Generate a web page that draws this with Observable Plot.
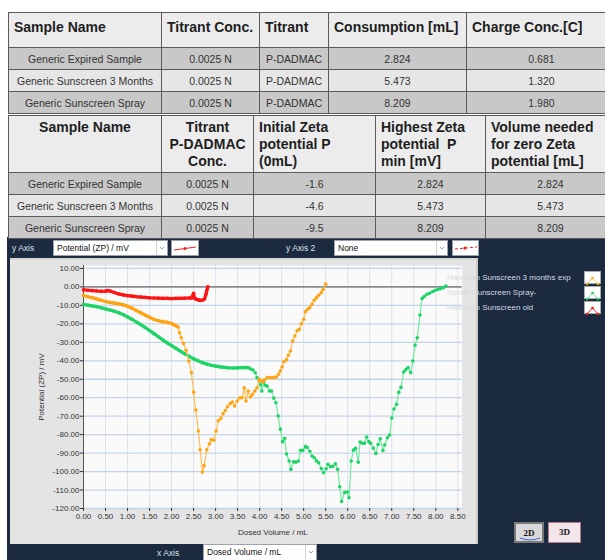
<!DOCTYPE html>
<html><head><meta charset="utf-8">
<script src="https://cdn.jsdelivr.net/npm/d3@7"></script>
<script src="https://cdn.jsdelivr.net/npm/@observablehq/plot@0.6"></script>
<style>
html,body{margin:0;padding:0;background:#fff;}
#root{position:relative;width:605px;height:560px;overflow:hidden;font-family:"Liberation Sans",Arial,sans-serif;}
.tbl{position:absolute;border-collapse:collapse;table-layout:fixed;}
.tbl td{border:1px solid #5b5b5b;padding:0;overflow:hidden;white-space:nowrap;}
.tbl td.h{background:#ececec;font-weight:bold;font-size:14px;color:#1e1e1e;vertical-align:top;}
.tbl td.d{font-size:10.5px;color:#333;text-align:center;vertical-align:middle;}
.dark{background:#c8c8c8}.light{background:#e6e6e6}
#navy{position:absolute;left:7px;top:237px;width:600px;height:330px;background:#1b2a3e;}
.lbl{position:absolute;font-size:8.5px;color:#dde2ea;white-space:nowrap;}
.sel{position:absolute;background:#fff;border:1px solid #9aa3ad;height:16px;box-sizing:border-box;font-size:8.5px;color:#111;line-height:14px;padding-left:3px;white-space:nowrap;}
.sel .arr{position:absolute;right:0;top:0;width:10px;height:14px;border-left:1px solid #d0d4d8;}
.mk{position:absolute;background:#fff;border:1px solid #9aa3ad;box-sizing:border-box;height:16px;}
#panel{position:absolute;left:10px;top:258px;width:468px;height:286px;background:#e4e4e4;border-right:2px solid #cdcdcd;border-top:2px solid #d8d8d8;box-sizing:border-box;}
#chart{position:absolute;left:10px;top:258px;}
.leg{position:absolute;left:447px;font-size:8px;color:#d6dae0;white-space:nowrap;}
.icon{position:absolute;left:584px;width:17px;height:13px;background:#fff;border:1px solid #aaa;box-sizing:border-box;}
.btn{position:absolute;top:522px;height:21px;box-sizing:border-box;font-family:"Liberation Serif",serif;font-weight:bold;font-size:9px;text-align:center;line-height:19px;color:#111;}
</style></head>
<body><div id="root">
<div id="navy"></div>
<div id="tables"></div>
<div class="lbl" style="left:12px;top:243px;">y Axis</div>
<div class="sel" style="left:53px;top:240px;width:115px;">Potential (ZP) / mV<div class="arr"><svg width="10" height="14"><polyline points="3,6 5,8 7,6" fill="none" stroke="#888" stroke-width="0.8"/></svg></div></div>
<div class="mk" style="left:171px;top:240px;width:28px;"><svg width="26" height="14"><line x1="2" y1="9" x2="24" y2="6" stroke="#e22" stroke-width="1"/><circle cx="13" cy="7.5" r="1.6" fill="#e22"/></svg></div>
<div class="lbl" style="left:286px;top:243px;">y Axis 2</div>
<div class="sel" style="left:334px;top:240px;width:114px;">None<div class="arr"><svg width="10" height="14"><polyline points="3,6 5,8 7,6" fill="none" stroke="#888" stroke-width="0.8"/></svg></div></div>
<div class="mk" style="left:452px;top:240px;width:27px;"><svg width="25" height="14"><line x1="2" y1="8" x2="24" y2="6" stroke="#e22" stroke-width="1" stroke-dasharray="3,2"/><circle cx="12" cy="7" r="1.6" fill="#e22"/></svg></div>
<div id="panel"></div>
<div id="chart"></div>
<div id="legend"></div>
<div class="btn" style="left:514px;width:30px;background:#d9d9d9;border:2px solid #7a7a7a;">2D<svg style="position:absolute;left:3px;top:13px" width="22" height="5"><path d="M1,1 Q11,5 21,1" fill="none" stroke="#3a6ad0" stroke-width="1"/></svg></div>
<div class="btn" style="left:548px;width:33px;background:#f3e6ea;border:1px solid #b07a86;">3D</div>
<div class="lbl" style="left:157px;top:548px;">x Axis</div>
<div class="sel" style="left:203px;top:544px;width:114px;height:18px;">Dosed Volume / mL<div class="arr" style="height:16px"><svg width="10" height="14"><polyline points="3,6 5,8 7,6" fill="none" stroke="#888" stroke-width="0.8"/></svg></div></div>
</div>
<script>
// ---- table data ----
const sampleNames = ["Generic Expired Sample", "Generic Sunscreen 3 Months", "Generic Sunscreen Spray"];
const titrantConc = ["0.0025 N", "0.0025 N", "0.0025 N"];
const titrantName = ["P-DADMAC", "P-DADMAC", "P-DADMAC"];
const consumption = ["2.824", "5.473", "8.209"];
const chargeConc = ["0.681", "1.320", "1.980"];
const initialZeta = ["-1.6", "-4.6", "-9.5"];
const highestZeta = ["2.824", "5.473", "8.209"];
const zeroVolume = ["2.824", "5.473", "8.209"];
const table1Headers = ["Sample Name", "Titrant Conc.", "Titrant", "Consumption [mL]", "Charge Conc.[C]"];
const table2Headers = ["Sample Name", "Titrant<br>P-DADMAC<br>Conc.", "Initial Zeta<br>potential P<br>(0mL)", "Highest Zeta<br>potential &nbsp;P<br>min [mV]", "Volume needed<br>for zero Zeta<br>potential [mL]"];

// ---- chart data ----
const seriesNames = ["Hawaiian Sunscreen 3 months exp", "Sports Sunscreen Spray-", "Hawaiian Sunscreen old"];
const dotColors = ["#ffa412", "#1dd466", "#ff1414"];
const lineColors = ["#ffbd55", "#74e8a3", "#ff2020"];
const denseUntil = [2.1, 3.75, 2.824];   // densely sampled start of each titration (mL)
const xTicks = [0, 0.5, 1, 1.5, 2, 2.5, 3, 3.5, 4, 4.5, 5, 5.5, 6, 6.5, 7, 7.5, 8, 8.5];
const yTicks = [10, 0, -10, -20, -30, -40, -50, -60, -70, -80, -90, -100, -110, -120];

const hawaiian3Months = [
 [0,-4.6],[0.1,-5.3],[0.2,-5.9],[0.3,-6.5],[0.4,-7.2],[0.5,-7.9],[0.6,-8.4],[0.7,-8.8],[0.8,-9.2],[0.9,-9.7],
 [1.0,-10.5],[1.1,-11.5],[1.2,-12.8],[1.3,-14.0],[1.4,-15.3],[1.5,-16.5],[1.6,-17.6],[1.7,-18.3],[1.8,-18.8],[1.9,-19.2],
 [2.0,-19.8],[2.05,-20.5],[2.1,-21.0],[2.15,-21.8],[2.18,-24.8],[2.22,-27.5],[2.27,-30.7],[2.33,-34.3],[2.39,-40.1],[2.45,-46.4],
 [2.50,-57.0],[2.55,-66.7],[2.61,-78.0],[2.65,-88.2],[2.70,-100.3],[2.74,-96.8],[2.80,-88.2],[2.86,-84.9],[2.90,-82.7],[2.96,-83.0],
 [3.01,-78.0],[3.06,-72.5],[3.12,-71.2],[3.17,-68.6],[3.22,-66.9],[3.27,-64.9],[3.33,-63.2],[3.38,-62.3],[3.43,-64.5],[3.49,-61.8],
 [3.55,-60.0],[3.60,-60.0],[3.65,-54.7],[3.69,-61.8],[3.74,-56.4],[3.79,-59.6],[3.84,-58.2],[3.89,-56.4],[3.94,-54.6],[3.99,-50.0],
 [4.02,-50.9],[4.07,-51.3],[4.11,-50.5],[4.17,-49.1],[4.23,-49.1],[4.28,-49.1],[4.33,-49.0],[4.38,-48.8],[4.43,-47.3],[4.47,-45.5],
 [4.51,-43.4],[4.55,-40.5],[4.61,-39.5],[4.65,-37.0],[4.70,-34.7],[4.75,-29.3],[4.80,-26.6],[4.85,-23.8],[4.90,-23.0],[4.95,-19.9],
 [5.00,-17.5],[5.04,-13.4],[5.09,-12.1],[5.14,-11.2],[5.19,-9.4],[5.24,-7.2],[5.29,-5.8],[5.34,-4.5],[5.40,-3.1],[5.44,-1.4],[5.50,1.5]
];
const sportsSpray = [
 [0,-9.5],[0.1,-9.9],[0.2,-10.3],[0.3,-10.7],[0.4,-11.3],[0.5,-11.9],[0.6,-12.5],[0.7,-13.2],[0.8,-14.0],[0.9,-15.0],
 [1.0,-16.2],[1.1,-17.5],[1.2,-19.0],[1.3,-20.4],[1.4,-22.0],[1.5,-23.6],[1.6,-25.3],[1.7,-27.0],[1.8,-28.7],[1.9,-30.3],
 [2.0,-31.8],[2.1,-33.3],[2.2,-34.8],[2.3,-36.2],[2.4,-37.6],[2.5,-38.9],[2.6,-40.0],[2.7,-41.0],[2.8,-41.8],[2.9,-42.4],
 [3.0,-42.9],[3.1,-43.3],[3.2,-43.6],[3.3,-43.8],[3.4,-43.9],[3.5,-43.8],[3.6,-43.7],[3.7,-43.6],[3.75,-43.8],[3.8,-44.5],
 [3.85,-45.0],[3.9,-46.5],[3.94,-49.1],[3.99,-50.9],[4.02,-53.0],[4.05,-56.4],[4.09,-51.5],[4.13,-53.3],[4.17,-53.7],[4.22,-56.4],
 [4.27,-56.4],[4.32,-60.2],[4.37,-62.7],[4.42,-69.9],[4.47,-77.1],[4.52,-83.9],[4.57,-82.0],[4.61,-90.5],[4.67,-94.3],[4.71,-98.8],
 [4.77,-94.7],[4.82,-94.9],[4.88,-94.3],[4.93,-88.5],[4.98,-88.5],[5.04,-86.5],[5.08,-87.0],[5.14,-89.0],[5.19,-91.6],[5.24,-92.5],
 [5.29,-94.1],[5.34,-95.2],[5.40,-98.4],[5.45,-100.6],[5.51,-98.5],[5.55,-96.0],[5.61,-97.4],[5.66,-97.2],[5.72,-95.8],[5.77,-98.8],
 [5.82,-108.2],[5.86,-116.2],[5.93,-111.3],[5.99,-111.1],[6.03,-114.2],[6.08,-94.3],[6.13,-88.4],[6.18,-87.4],[6.24,-94.9],[6.28,-84.0],
 [6.33,-84.7],[6.38,-84.7],[6.43,-81.3],[6.48,-83.8],[6.52,-84.7],[6.58,-87.3],[6.64,-90.2],[6.69,-85.3],[6.74,-82.2],[6.80,-88.6],
 [6.84,-85.6],[6.90,-81.7],[6.95,-80.2],[7.00,-71.0],[7.05,-66.1],[7.11,-63.6],[7.16,-57.1],[7.21,-54.4],[7.27,-46.1],[7.32,-44.8],
 [7.37,-43.7],[7.43,-46.4],[7.48,-40.1],[7.53,-31.6],[7.58,-27.5],[7.64,-15.2],[7.69,-6.3],[7.74,-5.2],[7.80,-4.0],[7.86,-3.4],
 [7.93,-2.5],[7.99,-1.8],[8.05,-1.4],[8.11,-0.9],[8.17,-0.4],[8.23,0.5]
];
const hawaiianOld = [
 [0,-1.6],[0.1,-1.8],[0.2,-2.0],[0.3,-2.2],[0.4,-2.4],[0.5,-2.3],[0.55,-2.0],[0.6,-2.2],[0.7,-3.0],[0.8,-3.8],
 [0.9,-4.3],[1.0,-4.7],[1.1,-5.0],[1.2,-5.3],[1.3,-5.5],[1.4,-5.7],[1.5,-5.9],[1.6,-6.0],[1.7,-6.1],[1.8,-6.2],
 [1.9,-6.2],[2.0,-6.3],[2.1,-6.2],[2.2,-6.2],[2.3,-6.1],[2.4,-6.0],[2.45,-6.0],[2.5,-3.5],[2.52,-6.2],[2.55,-6.5],
 [2.6,-7.0],[2.65,-7.3],[2.7,-7.2],[2.75,-6.5],[2.78,-4.0],[2.80,-2.0],[2.824,0.0]
];

// ---- tables ----
function buildTable(top, widths, headers, headerH, headerStyles, cols) {
  let h = `<table class="tbl" style="left:8px;top:${top}px;width:${d3.sum(widths)}px"><colgroup>` +
    widths.map(w => `<col style="width:${w}px">`).join("") + `</colgroup>`;
  h += `<tr style="height:${headerH}px">` + headers.map((t, i) => `<td class="h" style="${headerStyles[i]}">${t}</td>`).join("") + `</tr>`;
  sampleNames.forEach((s, r) => {
    h += `<tr style="height:22px" class="${r % 2 ? "light" : "dark"}">` + cols.map(c => `<td class="d">${c[r]}</td>`).join("") + `</tr>`;
  });
  return h + `</table>`;
}
const hs1 = headers => headers.map(() => "text-align:left;padding:6px 0 0 5px;");
const t1 = buildTable(12, [153, 98, 69, 138, 150], table1Headers, 35, hs1(table1Headers),
  [sampleNames, titrantConc, titrantName, consumption, chargeConc]);
const hs2 = ["text-align:center;padding-top:3px;line-height:17px;", "text-align:center;padding-top:3px;line-height:17px;",
  "text-align:left;padding:3px 0 0 5px;line-height:17px;", "text-align:left;padding:3px 0 0 5px;line-height:17px;", "text-align:left;padding:3px 0 0 5px;line-height:17px;"];
const t2 = buildTable(115, [153, 92, 122, 110, 130], table2Headers, 57, hs2,
  [sampleNames, titrantConc, initialZeta, highestZeta, zeroVolume]);
document.getElementById("tables").innerHTML = t1 + t2;

// ---- legend ----
const legend = document.getElementById("legend");
seriesNames.forEach((n, i) => {
  const top = 273 + i * 15;
  legend.insertAdjacentHTML("beforeend",
    `<div class="leg" style="top:${top}px">${n}</div>` +
    `<div class="icon" style="top:${top - 2}px"><svg width="15" height="11"><polyline points="2,9 7.5,3 13,9" fill="none" stroke="${lineColors[i]}" stroke-width="1"/>` +
    `<circle cx="2" cy="9" r="1.3" fill="${dotColors[i]}"/><circle cx="7.5" cy="3" r="1.3" fill="${dotColors[i]}"/><circle cx="13" cy="9" r="1.3" fill="${dotColors[i]}"/></svg></div>`);
});

// ---- chart ----
const series = [hawaiian3Months, sportsSpray, hawaiianOld];
const drawOrder = [1, 0, 2];
const fmt = d => d.toFixed(2);
const seriesMarks = drawOrder.flatMap(i => {
  const data = series[i];
  const dense = data.filter(d => d[0] <= denseUntil[i]);
  return [
    Plot.line(data, {x: d => d[0], y: d => d[1], stroke: lineColors[i], strokeWidth: 1.2}),
    Plot.line(dense, {x: d => d[0], y: d => d[1], stroke: dotColors[i], strokeWidth: 3.2}),
    Plot.dot(data, {x: d => d[0], y: d => d[1], r: 1.8, fill: dotColors[i], stroke: "none"})
  ];
});

const chart = Plot.plot({
  width: 468, height: 292,
  marginLeft: 73, marginRight: 16.3, marginTop: 7, marginBottom: 42,
  x: {domain: [0, 8.6]},
  y: {domain: [-120, 11.6]},
  style: {fontFamily: "Liberation Sans, Arial, sans-serif", fontSize: "8px", color: "#333", background: "transparent", overflow: "visible"},
  marks: [
    Plot.frame({fill: "#fafafa", stroke: "none"}),
    Plot.ruleX(xTicks, {stroke: "#dde2e8", strokeWidth: 1}),
    Plot.ruleY(yTicks, {stroke: "#c4d4e7", strokeWidth: 1.3}),
    Plot.ruleY([0], {stroke: "#6e6e6e", strokeWidth: 1.3}),
    Plot.ruleX([0], {stroke: "#555", strokeWidth: 1}),
    Plot.axisY(yTicks, {tickFormat: fmt, tickSize: 3, tickPadding: 1, label: "Potential (ZP) / mV", labelAnchor: "center", labelOffset: 45, labelArrow: "none"}),
    Plot.axisX(xTicks, {tickFormat: fmt, tickSize: 3, tickPadding: 2, label: "Dosed Volume / mL", labelAnchor: "center", labelOffset: 26, labelArrow: "none"}),
    ...seriesMarks
  ]
});
document.getElementById("chart").appendChild(chart);
</script>
</body></html>
